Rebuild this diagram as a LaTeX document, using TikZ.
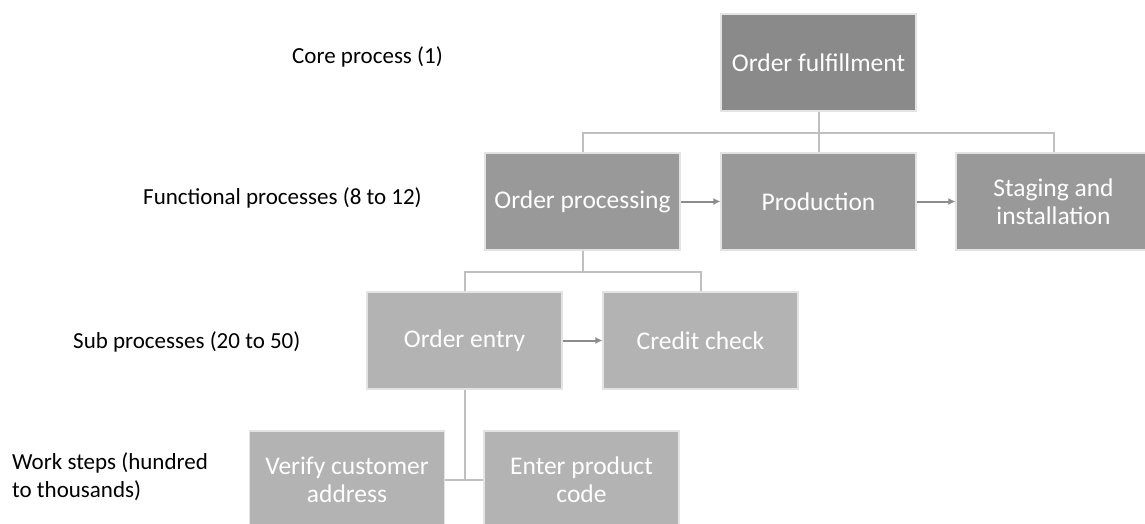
\documentclass[tikz,border=0pt]{standalone}
\usepackage{fontspec}
\setmainfont{Carlito}
\usetikzlibrary{arrows.meta}

\definecolor{coreFill}{HTML}{8A8A8A}
\definecolor{funcFill}{HTML}{999999}
\definecolor{subFill}{HTML}{B3B3B3}
\definecolor{linkGray}{HTML}{BFBFBF}
\definecolor{arrowGray}{HTML}{8C8C8C}
\definecolor{boxEdge}{HTML}{E3E3E3}

\tikzset{
  procbox/.style={rectangle, draw=boxEdge, line width=1.2pt,
    minimum width=195pt, minimum height=97pt, inner sep=0pt,
    text width=185pt, align=flush center, text=white,
    font=\fontsize{25.5}{28}\selectfont},
  corebox/.style={procbox, fill=coreFill},
  funcbox/.style={procbox, fill=funcFill},
  subbox/.style={procbox, fill=subFill},
  levellabel/.style={anchor=west, inner sep=0pt, align=left,
    font=\fontsize{23}{28}\selectfont},
  tree/.style={draw=linkGray, line width=2pt},
  flow/.style={draw=arrowGray, line width=2pt,
    -{Latex[length=7pt,width=7pt]}}
}

\begin{document}
\begin{tikzpicture}[x=1pt,y=-1pt]
  \useasboundingbox (0,0) rectangle (1145,523);
  \clip (0,0) rectangle (1145,523);

  % level labels
  \node[levellabel] (lcore) at (292,57) {Core process (1)};
  \node[levellabel] (lfunc) at (143,198) {Functional processes (8 to 12)};
  \node[levellabel] (lsub)  at (73,342)  {Sub processes (20 to 50)};
  \node[levellabel] (lwork) at (12,477)  {Work steps (hundred\\to thousands)};

  % core process
  \node[corebox] (core) at (818.5,62.5) {Order fulfillment};

  % functional processes
  \node[funcbox] (ordproc) at (582.5,201.5) {Order processing};
  \node[funcbox] (prod)    at (818.5,201.5) {Production};
  \node[funcbox] (stage)   at (1053.5,201.5) {Staging and\\installation};

  % sub processes
  \node[subbox] (entry)  at (464.5,340.5) {Order entry};
  \node[subbox] (credit) at (700.5,340.5) {Credit check};

  % work steps
  \node[subbox] (verify)  at (347,479.5) {Verify customer\\address};
  \node[subbox] (prodcode) at (581.5,479.5) {Enter product\\code};

  % hierarchy links (yshift is in page direction: negative goes down)
  \coordinate (jcore) at ([yshift=-21pt]core.south);
  \draw[tree] (core.south) -- (prod.north);
  \draw[tree] (ordproc.north) |- (jcore) -| (stage.north);

  \coordinate (jfunc) at ([yshift=-21pt]ordproc.south);
  \draw[tree] (ordproc.south) -- (jfunc);
  \draw[tree] (entry.north) |- (jfunc) -| (credit.north);

  \coordinate (jsub) at (entry.south |- verify.east);
  \draw[tree] (entry.south) -- (jsub);
  \draw[tree] (verify.east) -- (prodcode.west);

  % sequence arrows
  \draw[flow] (ordproc.east) -- (prod.west);
  \draw[flow] (prod.east) -- (stage.west);
  \draw[flow] (entry.east) -- (credit.west);
\end{tikzpicture}
\end{document}
